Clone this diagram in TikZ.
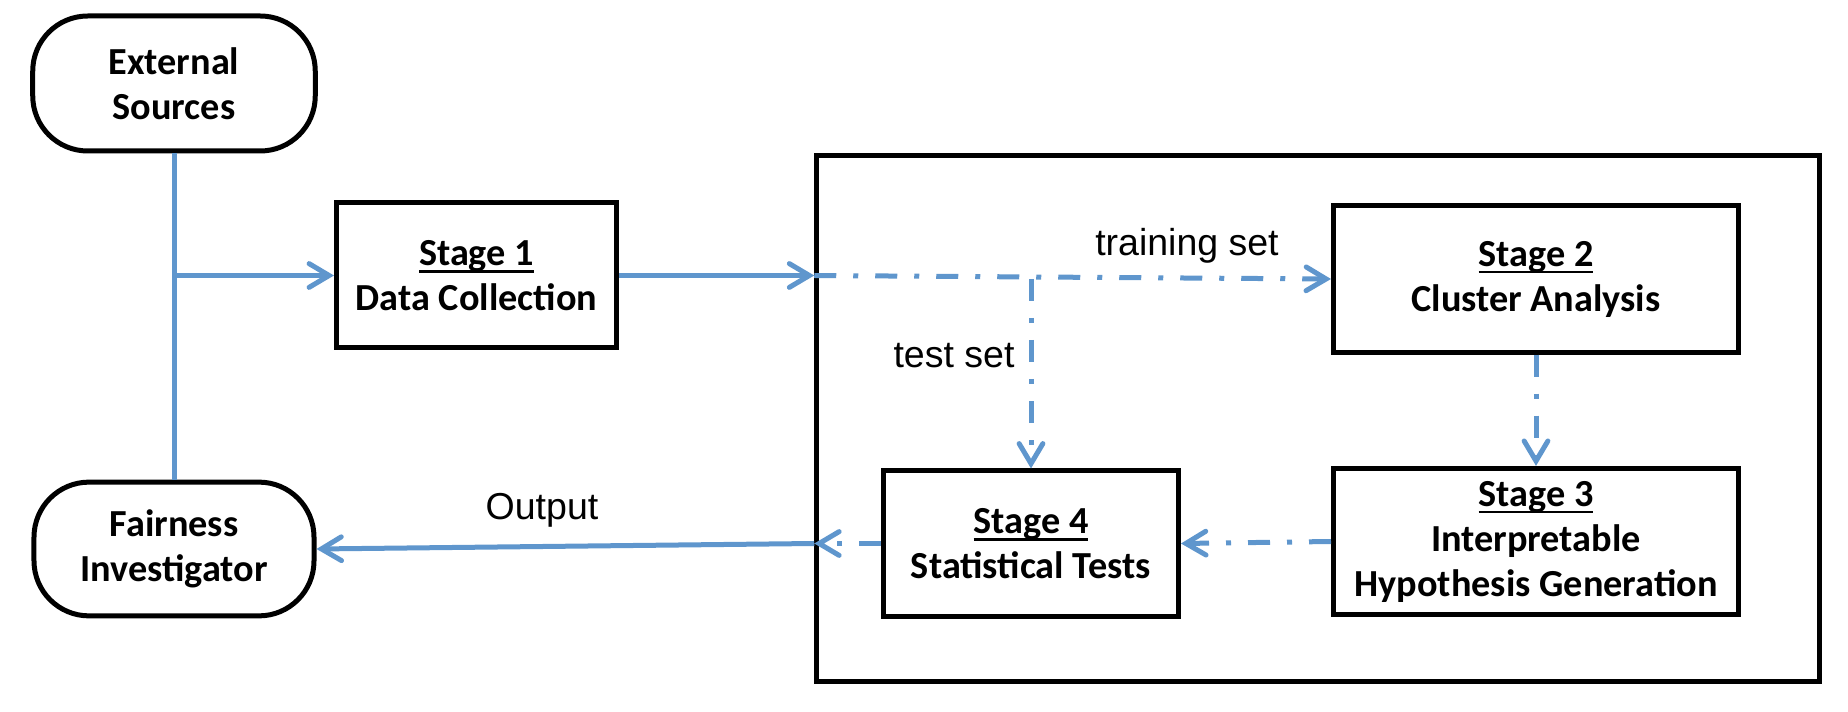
\documentclass[tikz,border=0pt]{standalone}
\usepackage{fontspec}
\setmainfont{Carlito}
\newfontfamily\labelfont{Liberation Sans}
\usetikzlibrary{arrows.meta}
\definecolor{flowblue}{RGB}{95,150,205}
\newcommand{\stagehead}[1]{\setbox0\hbox{#1}\rlap{\rule[-2.9pt]{\wd0}{1pt}}\box0}
\tikzset{
	stagebox/.style={draw, line width=2pt, align=center, font=\fontsize{15.3}{18}\selectfont\bfseries},
	endbox/.style={stagebox, rounded corners=22pt},
	flow/.style={draw=flowblue, line width=2pt},
	dashflow/.style={flow, dash pattern=on 8.8pt off 6.8pt on 2pt off 6.8pt},
	tip/.style={-{Straight Barb[length=8pt,width=9.5pt,line cap=round]}},
	flowlabel/.style={font=\labelfont\fontsize{15}{18}\selectfont}
}
\begin{document}
\begin{tikzpicture}[x=0.4pt,y=-0.4pt]
	\useasboundingbox (0,0) rectangle (1848,712);
	\node[endbox, minimum width=113pt, minimum height=54pt] (ext) at (174,83.5) {External\\Sources};
	\node[endbox, minimum width=112pt, minimum height=53.5pt] (fair) at (174,549) {Fairness\\Investigator};
	\node[stagebox, minimum width=112pt, minimum height=58pt] (s1) at (476.5,275.5) {\stagehead{Stage 1}\\Data Collection};
	\node[draw, line width=2pt, minimum width=401pt, minimum height=210pt] (pipeline) at (1318,418.5) {};
	\node[stagebox, minimum width=162pt, minimum height=58.5pt] (s2) at (1536,279) {\stagehead{Stage 2}\\Cluster Analysis};
	\node[stagebox, minimum width=162pt, minimum height=58.5pt] (s3) at (1536,541.5) {\stagehead{Stage 3}\\Interpretable\\Hypothesis Generation};
	\node[stagebox, minimum width=118pt, minimum height=58pt] (s4) at (1031,543.5) {\stagehead{Stage 4}\\Statistical Tests};
	\coordinate (split) at (174,275.5);
	\coordinate (inlet) at (s1.east -| pipeline.west);
	\coordinate (fork) at (s4.north |- s2.west);
	\coordinate (outlet) at (s4.west -| pipeline.west);
	\draw[flow] (ext.south) -- (fair.north);
	\draw[flow, tip] (split) -- (s1.west);
	\draw[flow, tip] (s1.east) -- (inlet);
	\draw[dashflow, tip] (inlet) -- (s2.west);
	\draw[dashflow, tip] (fork) -- (s4.north);
	\draw[dashflow, tip] (s2.south) -- (s3.north);
	\draw[dashflow, tip] (s3.west) -- (s4.east);
	\draw[dashflow, tip] (s4.west) -- (outlet);
	\draw[flow, tip] (outlet) -- (fair.east);
	\node[flowlabel] (trainlabel) at (1187,246) {training set};
	\node[flowlabel] (testlabel) at (954,356) {test set};
	\node[flowlabel] (outlabel) at (542,510) {Output};
\end{tikzpicture}
\end{document}
